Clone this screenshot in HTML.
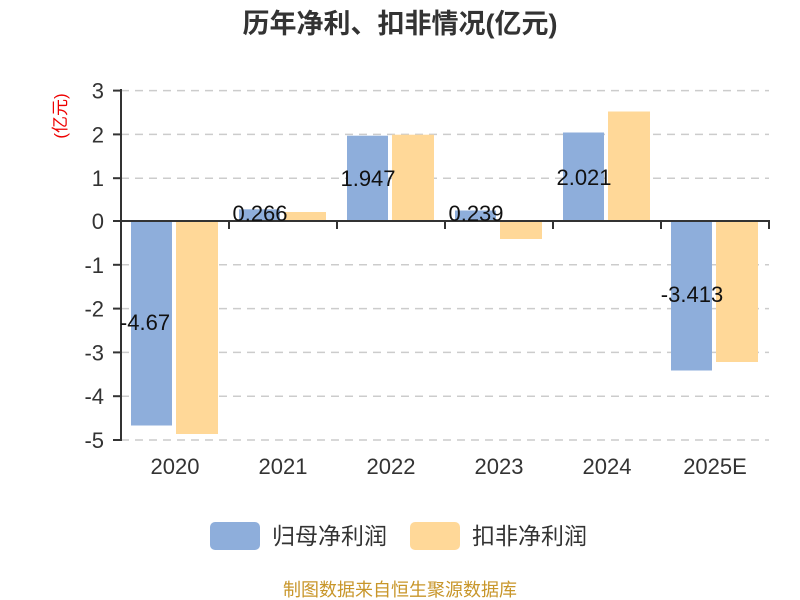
<!DOCTYPE html>
<html><head><meta charset="utf-8"><style>
body{margin:0;background:#fff}
svg{display:block}
text{font-family:"Liberation Sans","Noto Sans CJK SC",sans-serif}
</style></head><body>
<svg width="800" height="600" viewBox="0 0 800 600">
<text x="400" y="33" text-anchor="middle" font-size="27" font-weight="bold" fill="#333">历年净利、扣非情况(亿元)</text>
<text transform="translate(66,116) rotate(-90)" text-anchor="middle" font-size="17" fill="#e00">(亿元)</text>
<g stroke="#ccc" stroke-width="1.5" stroke-dasharray="8,6">
<line x1="121" x2="769" y1="90.6" y2="90.6"/>
<line x1="121" x2="769" y1="134.4" y2="134.4"/>
<line x1="121" x2="769" y1="178.2" y2="178.2"/>
<line x1="121" x2="769" y1="264.8" y2="264.8"/>
<line x1="121" x2="769" y1="308.6" y2="308.6"/>
<line x1="121" x2="769" y1="352.4" y2="352.4"/>
<line x1="121" x2="769" y1="396.2" y2="396.2"/>
<line x1="121" x2="769" y1="440" y2="440"/>
</g>
<g>
<rect x="131" y="221" width="41" height="204.5" fill="#8eaedb"/>
<rect x="176" y="221" width="42" height="213" fill="#ffd898"/>
<rect x="239" y="209.3" width="41" height="11.7" fill="#8eaedb"/>
<rect x="284" y="212" width="42" height="9" fill="#ffd898"/>
<rect x="347" y="135.7" width="41" height="85.3" fill="#8eaedb"/>
<rect x="392" y="134.7" width="42" height="86.3" fill="#ffd898"/>
<rect x="455" y="210.5" width="41" height="10.5" fill="#8eaedb"/>
<rect x="500" y="221" width="42" height="18" fill="#ffd898"/>
<rect x="563" y="132.5" width="41" height="88.5" fill="#8eaedb"/>
<rect x="608" y="111.5" width="42" height="109.5" fill="#ffd898"/>
<rect x="671" y="221" width="41" height="149.5" fill="#8eaedb"/>
<rect x="716" y="221" width="42" height="141" fill="#ffd898"/>
</g>
<g stroke="#333" stroke-width="2">
<line x1="121" y1="89" x2="121" y2="441"/>
<line x1="120" y1="221" x2="770" y2="221"/>
<line x1="113" y1="90.6" x2="121" y2="90.6"/>
<line x1="113" y1="134.4" x2="121" y2="134.4"/>
<line x1="113" y1="178.2" x2="121" y2="178.2"/>
<line x1="113" y1="221" x2="121" y2="221"/>
<line x1="113" y1="264.8" x2="121" y2="264.8"/>
<line x1="113" y1="308.6" x2="121" y2="308.6"/>
<line x1="113" y1="352.4" x2="121" y2="352.4"/>
<line x1="113" y1="396.2" x2="121" y2="396.2"/>
<line x1="113" y1="440" x2="121" y2="440"/>
<line x1="229" y1="221" x2="229" y2="229"/>
<line x1="337" y1="221" x2="337" y2="229"/>
<line x1="445" y1="221" x2="445" y2="229"/>
<line x1="553" y1="221" x2="553" y2="229"/>
<line x1="661" y1="221" x2="661" y2="229"/>
<line x1="769" y1="221" x2="769" y2="229"/>
</g>
<g font-size="22" fill="#333" text-anchor="end">
<text x="104" y="98.6">3</text><text x="104" y="142.4">2</text><text x="104" y="186.2">1</text>
<text x="104" y="229">0</text><text x="104" y="272.8">-1</text><text x="104" y="316.6">-2</text>
<text x="104" y="360.4">-3</text><text x="104" y="404.2">-4</text><text x="104" y="448">-5</text>
</g>
<g font-size="22" fill="#333" text-anchor="middle">
<text x="175" y="474">2020</text><text x="283" y="474">2021</text><text x="391" y="474">2022</text>
<text x="499" y="474">2023</text><text x="607" y="474">2024</text><text x="715" y="474">2025E</text>
</g>
<g font-size="22" fill="#111" text-anchor="middle">
<text x="145" y="330">-4.67</text>
<text x="260" y="221">0.266</text>
<text x="368" y="186">1.947</text>
<text x="476" y="221">0.239</text>
<text x="584" y="185">2.021</text>
<text x="692" y="302">-3.413</text>
</g>
<rect x="210" y="522" width="50" height="28" rx="5" fill="#8eaedb"/>
<text x="272" y="544" font-size="23" fill="#333">归母净利润</text>
<rect x="410" y="522" width="50" height="28" rx="5" fill="#ffd898"/>
<text x="472" y="544" font-size="23" fill="#333">扣非净利润</text>
<text x="400" y="596" text-anchor="middle" font-size="18" fill="#c8962a">制图数据来自恒生聚源数据库</text>
</svg>
</body></html>
